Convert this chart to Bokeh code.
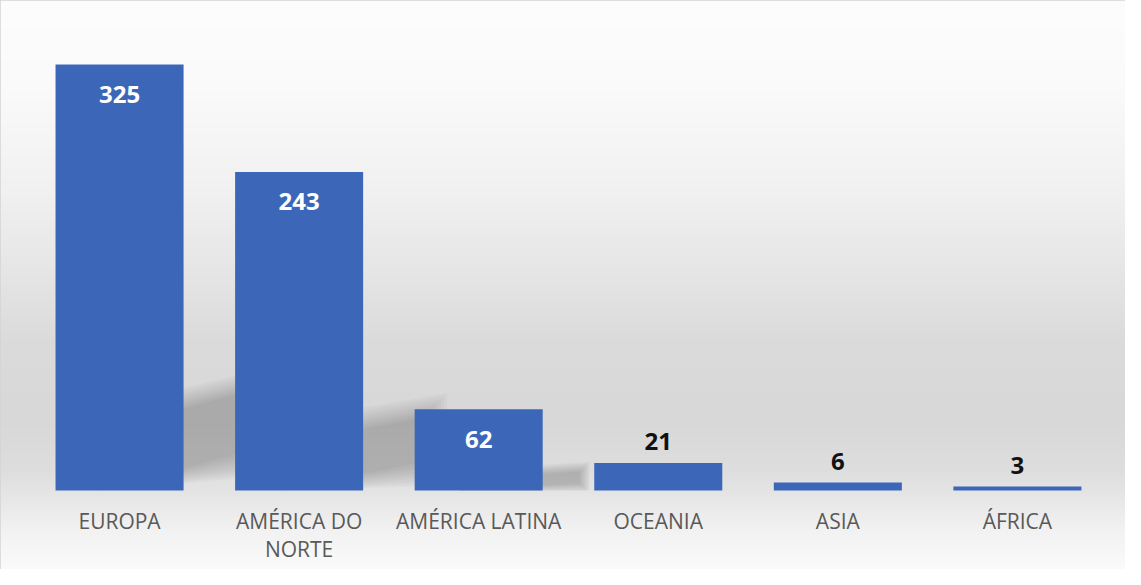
import numpy as np
from bokeh.plotting import figure
from bokeh.models import Range1d, ColumnDataSource
from bokeh.core.properties import value
from bokeh.embed import file_html
from bokeh.resources import INLINE

# ---- data ----
categories = ["EUROPA", "AMÉRICA DO\nNORTE", "AMÉRICA LATINA", "OCEANIA", "ASIA", "ÁFRICA"]
values = [325, 243, 62, 21, 6, 3]

# ---- layout constants ----
W, H = 1125, 569
BAR_W = 0.713
x_start, x_end = -0.663, 5.602
y_start, y_end = -60.3, 373.8
px_x = W / (x_end - x_start)
px_y = H / (y_end - y_start)

p = figure(width=W, height=H, output_backend="svg", toolbar_location=None,
           x_range=Range1d(x_start, x_end), y_range=Range1d(y_start, y_end),
           min_border=0, min_border_left=0, min_border_right=0,
           min_border_top=0, min_border_bottom=0)
p.xaxis.visible = False
p.yaxis.visible = False
p.grid.visible = False
p.outline_line_color = "#d4d4d4"
p.outline_line_width = 2
p.background_fill_color = "white"
p.border_fill_color = "white"

# ---- background vertical gradient (page-pixel stops -> gray level) ----
stop_py = [0, 90, 190, 270, 340, 420, 470, 495, 530, 569]
stop_g = [253, 250, 241, 230, 219, 216, 222, 230, 242, 251]
rows = np.arange(H)  # row 0 = bottom
py = H - rows - 0.5
g = np.interp(py, stop_py, stop_g).astype(np.uint32)
img = np.empty((H, 1), dtype=np.uint32)
img[:, 0] = (255 << 24) | (g << 16) | (g << 8) | g
p.image_rgba(image=[img], x=x_start, y=y_start, dw=x_end - x_start, dh=y_end - y_start)

# ---- soft perspective shadows behind bars (slanting up to the right) ----
idx = np.arange(len(categories))
for i, v in enumerate(values):
    s = min(1.0, v / 150.0)
    if s < 0.2:
        continue
    xl = idx[i] - 0.1
    xr = idx[i] + BAR_W / 2 + 60 * min(1.0, v / 100.0) / px_x
    for k in range(9):
        e = (8 - k) * 3.0 * s  # px expansion, outer layers first
        ex, ey = e / px_x, e / px_y
        xs = [xl, xr + ex, xr + ex, xl]
        ys = [0.0, 0.09 * v - ey, 0.23 * v + ey, 0.14 * v + ey]
        ys = [max(y, 0) for y in ys]
        p.patch(xs, ys, fill_color="black", fill_alpha=0.022 * min(1.0, v / 60.0),
                line_color=None)

# ---- bars ----
src = ColumnDataSource(dict(
    x=idx, top=values, cat=categories,
))
p.vbar(x="x", top="top", bottom=0, width=BAR_W, source=src,
       fill_color="#3C67B9", line_color=None)

# ---- value labels ----
inside = [v >= 50 for v in values]
ins = ColumnDataSource(dict(x=[i for i, f in zip(idx, inside) if f],
                            y=[v for v, f in zip(values, inside) if f],
                            t=[str(v) for v, f in zip(values, inside) if f]))
out = ColumnDataSource(dict(x=[i for i, f in zip(idx, inside) if not f],
                            y=[v for v, f in zip(values, inside) if not f],
                            t=[str(v) for v, f in zip(values, inside) if not f]))
p.text(x="x", y="y", text="t", source=ins, text_color="white",
       text_font=value("Open Sans"), text_font_style="bold", text_font_size="24px",
       text_align="center", text_baseline="middle", y_offset=30)
p.text(x="x", y="y", text="t", source=out, text_color="#111111",
       text_font=value("Open Sans"), text_font_style="bold", text_font_size="24px",
       text_align="center", text_baseline="middle", y_offset=-21)

# ---- category labels ----
p.text(x="x", y=0, text="cat", source=src, text_color="#595959",
       text_font=value("Open Sans"), text_font_size="21px",
       text_align="center", text_baseline="top", y_offset=17,
       text_line_height=1.0)

open("out.html", "w").write(file_html(p, INLINE))
